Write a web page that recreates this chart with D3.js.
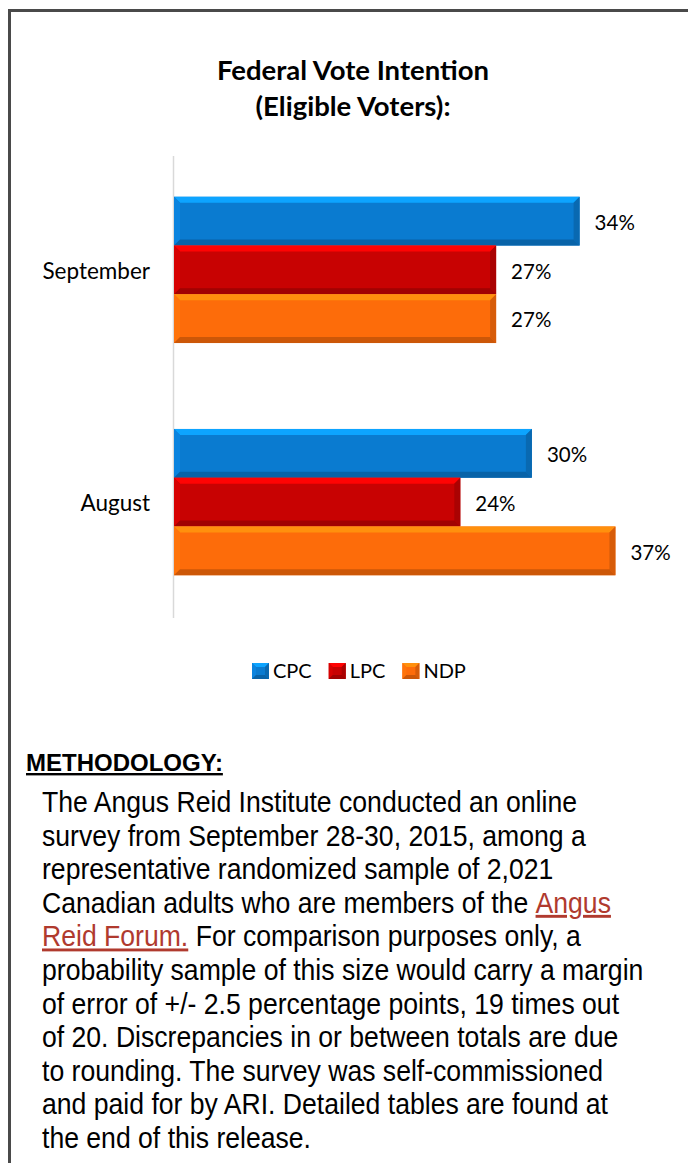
<!DOCTYPE html>
<html>
<head>
<meta charset="utf-8">
<script src="https://cdn.jsdelivr.net/npm/d3@7"></script>
<style>
  body { margin: 0; background: #fff; }
  svg { display: block; }
</style>
</head>
<body>
<div id="chart"></div>
<script>
// chart values
var months = ["September", "August"];
var parties = ["CPC", "LPC", "NDP"];
var cpc = [34, 30];
var lpc = [27, 24];
var ndp = [27, 37];
var partyColors = ["#0a7bd0", "#c80202", "#fd6c0a"];

var series = [cpc, lpc, ndp];

var W = 688, H = 1163;
var svg = d3.select("#chart").append("svg")
    .attr("width", W)
    .attr("height", H);

// frame (runs off the right and bottom edge)
svg.append("path")
    .attr("d", "M9.5," + H + " V10.5 H" + W)
    .attr("fill", "none")
    .attr("stroke", "#4a4a4a")
    .attr("stroke-width", 3);

// title
var title = svg.append("text")
    .attr("text-anchor", "middle")
    .attr("font-family", "Lato, sans-serif")
    .attr("font-weight", "bold")
    .attr("font-size", 27.5)
    .attr("fill", "#000");
title.append("tspan").attr("x", 353).attr("y", 80).text("Federal Vote Intention");
title.append("tspan").attr("x", 353).attr("y", 116).text("(Eligible Voters):");

// scales
var x = d3.scaleLinear().domain([0, 40]).range([174, 174 + 40 * 11.93]);
var y0 = d3.scaleBand().domain(months).range([155, 617]).paddingInner(0.37).paddingOuter(0.18);
var y1 = d3.scaleBand().domain(parties).range([0, y0.bandwidth()]);
var color = d3.scaleOrdinal().domain(parties).range(partyColors);

// axis line
svg.append("line")
    .attr("x1", x(0) - 0.5).attr("x2", x(0) - 0.5)
    .attr("y1", 156).attr("y2", 618)
    .attr("stroke", "#d9d9d9")
    .attr("stroke-width", 1.5);

// category labels
svg.selectAll(".cat").data(months).enter().append("text")
    .attr("class", "cat")
    .attr("x", 150)
    .attr("y", function(d) { return y0(d) + y0.bandwidth() / 2 + 1; })
    .attr("dy", "0.35em")
    .attr("text-anchor", "end")
    .attr("font-family", "Lato, sans-serif")
    .attr("font-size", 22.5)
    .text(function(d) { return d; });

// flat list of bars
var bars = [];
months.forEach(function(m, i) {
  parties.forEach(function(p, j) {
    bars.push({month: m, party: p, value: series[j][i]});
  });
});

// bevelled box, like the office "bevel" bar style
function bevel(g, x0, yy, w, h, base, b) {
  var x1 = x0 + w, yb = yy + h;
  var c = d3.color(base);
  g.append("rect").attr("x", x0).attr("y", yy).attr("width", w).attr("height", h).attr("fill", base);
  g.append("path")
      .attr("d", "M" + x0 + "," + yy + "L" + x1 + "," + yy + "L" + (x1 - b) + "," + (yy + b) + "L" + (x0 + b) + "," + (yy + b) + "Z")
      .attr("fill", c.brighter(0.8));
  g.append("path")
      .attr("d", "M" + x0 + "," + yy + "L" + (x0 + b) + "," + (yy + b) + "L" + (x0 + b) + "," + (yb - b) + "L" + x0 + "," + yb + "Z")
      .attr("fill", c.brighter(0.2));
  g.append("path")
      .attr("d", "M" + x1 + "," + yy + "L" + (x1 - b) + "," + (yy + b) + "L" + (x1 - b) + "," + (yb - b) + "L" + x1 + "," + yb + "Z")
      .attr("fill", c.darker(0.45));
  g.append("path")
      .attr("d", "M" + x0 + "," + yb + "L" + x1 + "," + yb + "L" + (x1 - b) + "," + (yb - b) + "L" + (x0 + b) + "," + (yb - b) + "Z")
      .attr("fill", c.darker(0.6));
}

var barG = svg.append("g");
bars.forEach(function(d) {
  var g = barG.append("g");
  var top = y0(d.month) + y1(d.party);
  bevel(g, x(0), top, x(d.value) - x(0), y1.bandwidth(), color(d.party), 6);
});

// value labels
svg.selectAll(".val").data(bars).enter().append("text")
    .attr("class", "val")
    .attr("x", function(d) { return x(d.value) + 15; })
    .attr("y", function(d) { return y0(d.month) + y1(d.party) + y1.bandwidth() / 2 + 1.5; })
    .attr("dy", "0.35em")
    .attr("font-family", "Lato, sans-serif")
    .attr("font-size", 20.5)
    .text(function(d) { return d.value + "%"; });

// legend
var lx = 252;
parties.forEach(function(p) {
  var g = svg.append("g");
  bevel(g, lx, 663, 17, 16, color(p), 4);
  var t = svg.append("text")
      .attr("x", lx + 21)
      .attr("y", 671)
      .attr("dy", "0.35em")
      .attr("font-family", "Lato, sans-serif")
      .attr("font-size", 20)
      .text(p);
  lx += 21 + t.node().getComputedTextLength() + 17;
});

// methodology
svg.append("text")
    .attr("x", 26)
    .attr("y", 771)
    .attr("font-family", "'Liberation Sans', Arial, sans-serif")
    .attr("font-weight", "bold")
    .attr("font-size", 24)
    .attr("text-decoration", "underline")
    .text("METHODOLOGY:");

var link = "#b03a2e";
var lines = [
  [["The Angus Reid Institute conducted an online"]],
  [["survey from September 28-30, 2015, among a"]],
  [["representative randomized sample of 2,021"]],
  [["Canadian adults who are members of the "], ["Angus", true]],
  [["Reid Forum.", true], [" For comparison purposes only, a"]],
  [["probability sample of this size would carry a margin"]],
  [["of error of +/- 2.5 percentage points, 19 times out"]],
  [["of 20. Discrepancies in or between totals are due"]],
  [["to rounding. The survey was self-commissioned"]],
  [["and paid for by ARI. Detailed tables are found at"]],
  [["the end of this release."]]
];

// the body text is a touch narrower than plain Arial
var body = svg.append("text")
    .attr("transform", "translate(42,0) scale(0.917,1)")
    .attr("font-family", "'Liberation Sans', Arial, sans-serif")
    .attr("font-size", 29)
    .attr("fill", "#000");

lines.forEach(function(parts, i) {
  parts.forEach(function(part, k) {
    var ts = body.append("tspan").text(part[0]);
    if (k === 0) ts.attr("x", 0).attr("y", 812 + i * 33.6);
    if (part[1]) ts.attr("fill", link).attr("text-decoration", "underline");
  });
});
</script>
</body>
</html>
